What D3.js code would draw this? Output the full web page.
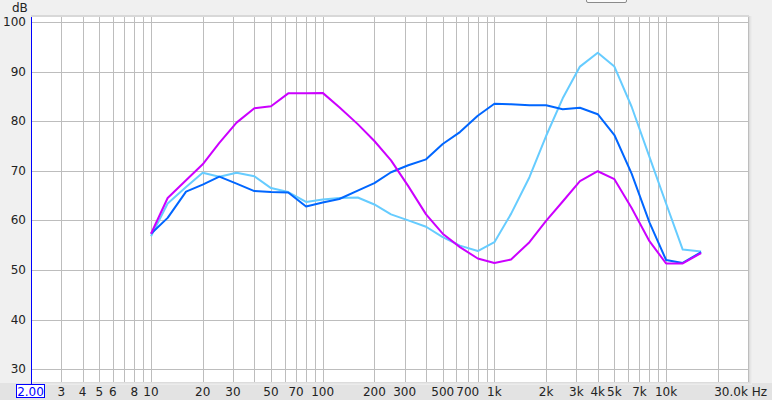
<!DOCTYPE html>
<html><head><meta charset="utf-8">
<script src="https://cdn.jsdelivr.net/npm/d3@7"></script>
<style>
html,body{margin:0;padding:0;background:#f0f0f0;}
svg{display:block;font-family:"DejaVu Sans",sans-serif;}
</style></head>
<body><svg id="c" width="772" height="400"></svg>
<script>
const freqs = [10,12.5,16,20,25,31.5,40,50,63,80,100,125,160,200,250,315,400,500,630,800,1000,1250,1600,2000,2500,3150,4000,5000,6300,8000,10000,12500,16000];
const magenta = [57.3,64.5,68.1,71.3,75.6,79.7,82.6,83.0,85.6,85.6,85.7,82.8,79.4,76.0,72.1,66.9,61.2,57.3,54.6,52.3,51.4,52.1,55.6,59.9,63.8,67.9,69.9,68.3,62.5,55.8,51.3,51.3,53.4];
const blue = [57.3,60.5,65.8,67.2,68.8,67.4,65.9,65.7,65.6,62.8,63.6,64.3,66.0,67.5,69.7,71.1,72.3,75.4,77.8,81.1,83.5,83.4,83.2,83.2,82.4,82.7,81.4,77.2,69.4,59.6,52.0,51.4,53.6];
const lightBlue = [56.8,63.4,66.7,69.6,68.8,69.6,68.9,66.5,65.7,63.7,64.2,64.5,64.6,63.2,61.2,60.0,58.7,56.6,54.9,53.8,55.6,61.3,68.7,77.0,84.6,91.0,93.8,91.0,82.9,72.8,63.4,54.1,53.7];
const yTicks = [30,40,50,60,70,80,90,100];
const xTickVals = [3,4,5,6,8,10,20,30,50,70,100,200,300,500,700,1000,2000,3000,4000,5000,7000,10000];
const xTickLabels = ["3","4","5","6","8","10","20","30","50","70","100","200","300","500","700","1k","2k","3k","4k","5k","7k","10k"];
const seriesColors = ["#cc00ff","#0066ff","#66ccff"];

const svg = d3.select("#c");
const L=31, R=748, T=17, B=382;
const x = d3.scaleLog().domain([2,30000]).range([L,R]);
const y = d3.scaleLinear().domain([27.4,101]).range([B,T]);

// bottom strip
svg.append("rect").attr("x",0).attr("y",383).attr("width",772).attr("height",17).attr("fill","#e3e3e3");
// top box
svg.append("path").attr("d","M586.5,0 L586.5,1 Q586.5,2.5 588,2.5 L625,2.5 Q626.5,2.5 626.5,1 L626.5,0").attr("fill","#fafafa").attr("stroke","#8a8a8a");
// shadow
const sh = [["#d0d0d0",1],["#dcdcdc",2],["#e6e6e6",3],["#ececec",4]];
sh.slice().reverse().forEach(([c,o])=>{
  svg.append("rect").attr("x",L+o).attr("y",T-1+o*0).attr("width",R-L).attr("height",B-T+o).attr("fill",c);
});
svg.append("rect").attr("x",L).attr("y",T-2).attr("width",R-L+1).attr("height",2).attr("fill","#d8d8d8");
svg.append("rect").attr("x",L).attr("y",T).attr("width",R-L).attr("height",B-T).attr("fill","#fff");

// grid
const minor=[];
for (let e=0;e<=4;e++) for (let m=1;m<=9;m++){const v=m*Math.pow(10,e); if(v>=2&&v<=30000) minor.push(v);}
const g = svg.append("g");
g.selectAll("line.v").data(minor).join("line")
  .attr("x1",d=>Math.round(x(d))+0.5).attr("x2",d=>Math.round(x(d))+0.5)
  .attr("y1",T).attr("y2",B).attr("stroke","#bdbdbd").attr("stroke-width",1);
g.selectAll("line.h").data(yTicks).join("line")
  .attr("x1",L).attr("x2",R).attr("y1",d=>Math.round(y(d))+0.5).attr("y2",d=>Math.round(y(d))+0.5)
  .attr("stroke","#bdbdbd").attr("stroke-width",1);
// left blue edge
svg.append("line").attr("x1",L+0.5).attr("x2",L+0.5).attr("y1",T).attr("y2",385).attr("stroke","#0000ff").attr("stroke-width",1);

// y labels
svg.selectAll("text.yl").data(yTicks).join("text")
  .attr("x",26).attr("y",d=>y(d)+4).attr("text-anchor","end").attr("font-size",12).attr("fill","#222").text(d=>d);
svg.append("text").attr("x",12).attr("y",12).attr("font-size",12).attr("fill","#222").text("dB");

// x labels
svg.selectAll("text.xl").data(xTickVals).join("text")
  .attr("x",d=>x(d)).attr("y",396).attr("text-anchor","middle").attr("font-size",12).attr("fill","#222")
  .text((d,i)=>xTickLabels[i]);
svg.append("text").attr("x",767).attr("y",396).attr("text-anchor","end").attr("font-size",12).attr("fill","#222").text("30.0k Hz");
svg.append("rect").attr("x",16.5).attr("y",384.5).attr("width",28).attr("height",13).attr("fill","#fff").attr("stroke","#0000ff");
svg.append("text").attr("x",30.5).attr("y",395.5).attr("text-anchor","middle").attr("font-size",12).attr("fill","#0000ff").text("2.00");

// lines
const line = d3.line().x((d,i)=>x(freqs[i])).y(d=>y(d));
[lightBlue, blue, magenta].forEach((s,k)=>{
  const col = [seriesColors[2],seriesColors[1],seriesColors[0]][k];
  svg.append("path").attr("d",line(s)).attr("fill","none").attr("stroke",col).attr("stroke-width",2).attr("stroke-linejoin","round");
});
</script></body></html>
